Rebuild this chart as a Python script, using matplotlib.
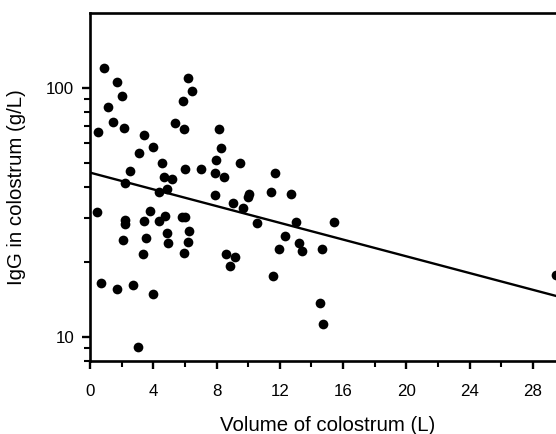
import matplotlib
matplotlib.use("Agg")
import matplotlib.pyplot as plt
from matplotlib.ticker import FixedLocator, NullFormatter
import numpy as np

plt.rcParams['font.family'] = ['Liberation Sans', 'DejaVu Sans']

# Volume of colostrum (L)
volume = [0.88, 1.71, 2.02, 1.14, 1.45, 2.15, 0.51, 3.41, 3.10, 3.98,
          4.55, 5.37, 5.94, 6.19, 6.45, 5.88, 7.96, 8.15, 8.28, 9.48,
          2.53, 2.21, 4.68, 5.18, 4.36, 4.87, 6.00, 7.02, 7.90, 8.47,
          11.69, 7.90, 9.04, 10.05, 9.99, 11.44, 12.71, 9.67, 10.56, 13.02,
          15.42, 12.33, 13.21, 13.40, 11.95, 14.66, 8.60, 9.17, 8.85, 0.44,
          3.79, 3.41, 2.21, 2.21, 4.36, 4.74, 5.82, 6.00, 4.87, 6.26,
          3.54, 2.09, 4.93, 6.19, 3.35, 5.94, 0.70, 1.71, 2.72, 3.98,
          3.03, 11.57, 14.54, 14.73, 29.46]
# IgG in colostrum (g/L)
igg = [120.6, 106.0, 93.1, 84.1, 73.2, 69.3, 66.8, 64.9, 55.0, 58.1,
       50.1, 72.6, 68.6, 110.0, 97.5, 88.9, 51.5, 68.6, 57.6, 50.1,
       46.5, 41.7, 44.0, 43.2, 38.3, 39.4, 47.4, 47.4, 45.7, 44.0,
       45.7, 37.3, 34.6, 37.6, 36.3, 38.3, 37.6, 32.8, 28.8, 29.0,
       29.0, 25.5, 23.9, 22.2, 22.6, 22.6, 21.6, 21.0, 19.3, 31.6,
       31.9, 29.3, 29.6, 28.5, 29.3, 30.7, 30.4, 30.4, 26.2, 26.7,
       25.0, 24.6, 23.9, 24.1, 21.6, 21.8, 16.5, 15.6, 16.1, 14.9,
       9.14, 17.5, 13.7, 11.3, 17.8]

# Regression line endpoints
fit_x = [0, 30]
fit_y = [45.7, 14.3]

x_major = [0, 4, 8, 12, 16, 20, 24, 28]
x_minor = [2, 6, 10, 14, 18, 22, 26, 30]
y_major = [10, 100]
y_major_labels = ['10', '100']
y_minor = [8, 9, 20, 30, 40, 50, 60, 70, 80, 90]

fig = plt.figure(figsize=(5.56, 4.34), dpi=100)
W, H = 556, 434
left_px, right_px, top_px, bottom_px = 90, 564.6, 13, 361
ax = fig.add_axes([left_px / W, 1 - bottom_px / H,
                   (right_px - left_px) / W, (bottom_px - top_px) / H])

ax.plot(fit_x, fit_y, color='black', lw=1.7, zorder=2)
ax.plot(volume, igg, linestyle='none', marker='o', markersize=7.0,
        color='black', markeredgewidth=0, zorder=3, clip_on=False)

ax.set_yscale('log')
ax.set_xlim(0, 30)
ax.set_ylim(8, 200)

ax.xaxis.set_major_locator(FixedLocator(x_major))
ax.xaxis.set_minor_locator(FixedLocator(x_minor))
ax.set_xticklabels([str(v) for v in x_major])
ax.yaxis.set_major_locator(FixedLocator(y_major))
ax.set_yticklabels(y_major_labels)
ax.yaxis.set_minor_locator(FixedLocator(y_minor))
ax.yaxis.set_minor_formatter(NullFormatter())

for s in ['left', 'bottom', 'top', 'right']:
    ax.spines[s].set_linewidth(1.9)

ax.tick_params(axis='both', which='major', direction='out', length=5.5,
               width=1.7, labelsize=12.2, color='black')
ax.tick_params(axis='both', which='minor', direction='out', length=4.5,
               width=1.5, color='black')
ax.tick_params(axis='x', which='major', pad=11)
ax.tick_params(axis='y', which='major', pad=6)

ax.set_xlabel('Volume of colostrum (L)', fontsize=14.7, labelpad=12)
ax.set_ylabel('IgG in colostrum (g/L)', fontsize=14.7, labelpad=14)

fig.savefig('out.png', dpi=100)
